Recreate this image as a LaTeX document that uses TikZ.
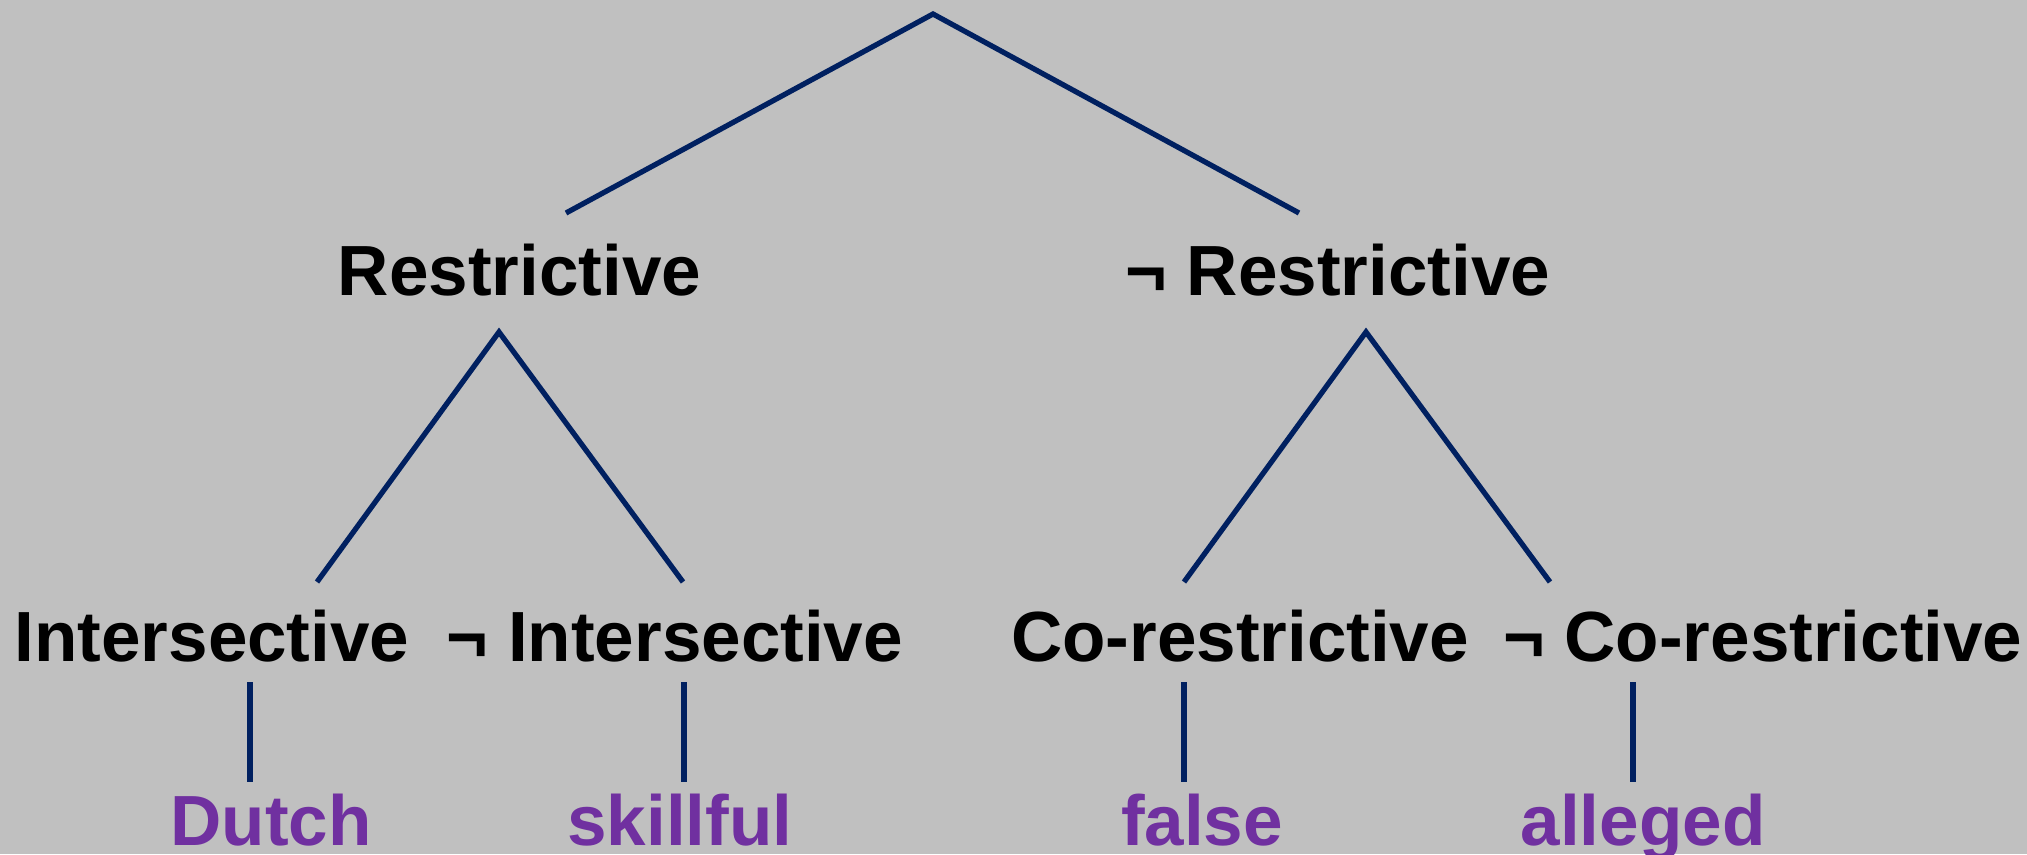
\documentclass[tikz,border=0pt]{standalone}
\usepackage{fontspec}
\setmainfont{Liberation Sans}
\definecolor{treeblue}{HTML}{002060}
\definecolor{leafpurple}{HTML}{7030A0}
\definecolor{slidegray}{HTML}{C0C0C0}

\begin{document}
\begin{tikzpicture}[x=0.01cm,y=-0.01cm,
  cat/.style={font=\fontsize{20.2}{24}\selectfont\bfseries, anchor=base, inner sep=0pt},
  leaf/.style={cat, text=leafpurple},
  branch/.style={draw=treeblue, line width=1.5pt}]
\useasboundingbox (0,0) rectangle (2027,854);
\clip (0,0) rectangle (2027,854);
\fill[slidegray] (0,0) rectangle (2027,854);

% categories
\node [cat] (restr) at (519.5,295) {Restrictive};
\node [cat] (nrestr) at (1338,295) {¬ Restrictive};
\node [cat] (inter) at (212,661) {Intersective};
\node [cat] (ninter) at (675,661) {¬ Intersective};
\node [cat] (corestr) at (1240,661) {Co-restrictive};
\node [cat] (ncorestr) at (1763,661) {¬ Co-restrictive};

% examples
\node [leaf] (dutch) at (271,845) {Dutch};
\node [leaf] (skill) at (680,845) {skillful};
\node [leaf] (false) at (1202,845) {false};
\node [leaf] (alleged) at (1643,845) {alleged};

% joints of the tree
\coordinate (root) at (933,14);
\coordinate (restr-up) at (566,213);
\coordinate (restr-down) at (499,332);
\coordinate (nrestr-up) at (1299,213);
\coordinate (nrestr-down) at (1366,332);
\coordinate (inter-up) at (317,582);
\coordinate (inter-down) at (250,682);
\coordinate (ninter-up) at (683,582);
\coordinate (ninter-down) at (684,682);
\coordinate (corestr-up) at (1184,582);
\coordinate (corestr-down) at (1184,682);
\coordinate (ncorestr-up) at (1550,582);
\coordinate (ncorestr-down) at (1633,682);
\coordinate (dutch-up) at (250,782);
\coordinate (skill-up) at (684,782);
\coordinate (false-up) at (1184,782);
\coordinate (alleged-up) at (1633,782);

\draw [branch] (restr-up) -- (root) -- (nrestr-up);
\draw [branch] (inter-up) -- (restr-down) -- (ninter-up);
\draw [branch] (corestr-up) -- (nrestr-down) -- (ncorestr-up);
\draw [branch] (inter-down) -- (dutch-up);
\draw [branch] (ninter-down) -- (skill-up);
\draw [branch] (corestr-down) -- (false-up);
\draw [branch] (ncorestr-down) -- (alleged-up);
\end{tikzpicture}
\end{document}
